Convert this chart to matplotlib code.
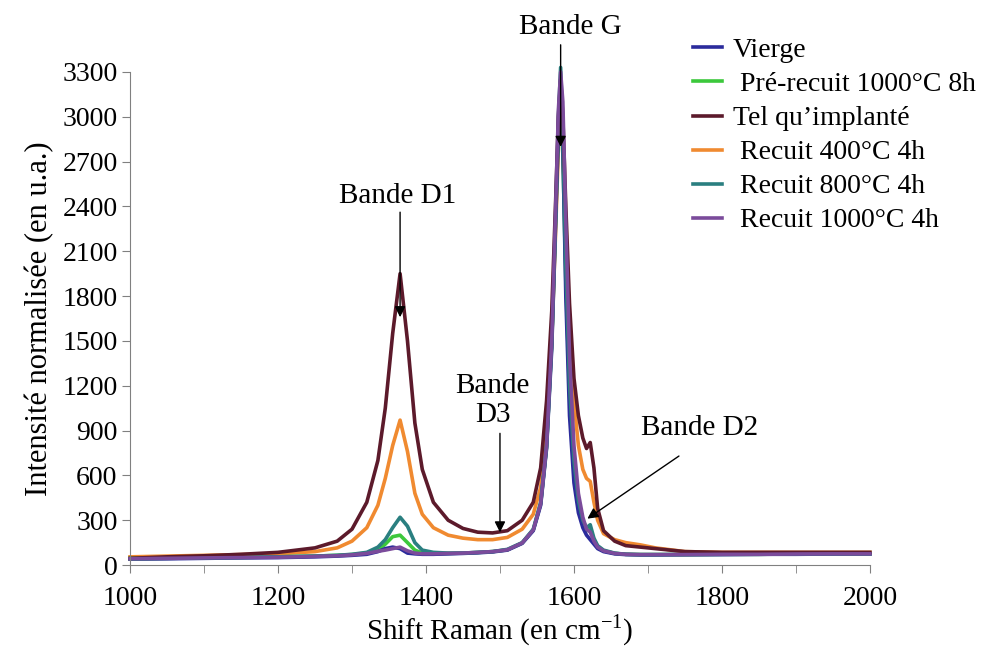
import matplotlib
matplotlib.use("Agg")
import matplotlib.pyplot as plt
from matplotlib.ticker import MultipleLocator

plt.rcParams["font.family"] = ["Liberation Serif", "DejaVu Serif"]

# Raman shift (cm-1), shared by all spectra
shift = [1000, 1050, 1100, 1150, 1200, 1250, 1280, 1300, 1320, 1335, 1345, 1355,
         1365, 1375, 1385, 1395, 1410, 1430, 1450, 1470, 1490, 1510, 1530, 1545,
         1555, 1563, 1570, 1575, 1579, 1582, 1585, 1589, 1594, 1600, 1606, 1612,
         1617, 1622, 1627, 1632, 1640, 1655, 1670, 1690, 1710, 1750, 1800, 1850,
         1900, 1950, 2000]

vierge = [40, 42, 45, 48, 50, 55, 60, 65, 72, 90, 110, 120,
          110, 80, 75, 72, 72, 75, 78, 82, 88, 100, 145, 230,
          400, 780, 1450, 2250, 2900, 3100, 2800, 1800, 1000, 550, 350, 250,
          200, 170, 140, 110, 90, 75, 70, 68, 68, 70, 70, 72,
          72, 74, 75]

pre_recuit = [45, 48, 50, 52, 55, 60, 65, 70, 80, 100, 140, 190,
              200, 150, 100, 80, 75, 78, 80, 84, 90, 102, 148, 235,
              410, 790, 1480, 2280, 2900, 3050, 2750, 1900, 1150, 650, 420, 300,
              230, 240, 170, 125, 95, 78, 72, 70, 70, 70, 72, 72,
              74, 75, 75]

implante = [45, 55, 62, 72, 85, 115, 160, 240, 420, 700, 1050, 1550,
            1950, 1500, 950, 640, 420, 300, 245, 220, 215, 230, 300, 420,
            650, 1100, 1700, 2400, 3000, 3250, 3000, 2400, 1750, 1250, 1000, 850,
            780, 820, 650, 380, 230, 160, 130, 120, 110, 90, 85, 85,
            85, 85, 85]

recuit_400 = [55, 60, 65, 70, 75, 90, 115, 160, 250, 400, 580, 800,
              970, 760, 480, 340, 250, 200, 180, 170, 170, 185, 240, 340,
              520, 900, 1500, 2200, 2800, 3050, 2800, 2200, 1600, 1100, 800, 640,
              580, 560, 420, 300, 210, 170, 150, 135, 115, 90, 85, 85,
              85, 85, 85]

recuit_800 = [40, 45, 48, 50, 55, 60, 65, 72, 85, 120, 170, 250,
              320, 260, 150, 100, 85, 80, 80, 85, 90, 105, 150, 240,
              420, 800, 1500, 2300, 3000, 3330, 2900, 2000, 1200, 700, 430, 300,
              250, 270, 180, 130, 100, 80, 72, 70, 70, 70, 72, 72,
              75, 75, 75]

recuit_1000 = [42, 45, 48, 50, 52, 58, 62, 68, 78, 92, 100, 110,
               120, 95, 80, 75, 75, 78, 80, 85, 90, 102, 148, 235,
               410, 800, 1500, 2350, 3050, 3300, 3100, 2300, 1400, 800, 480, 320,
               240, 220, 160, 120, 95, 78, 72, 70, 70, 70, 72, 72,
               74, 75, 75]

series = [
    (" Recuit 400°C 4h", recuit_400, "#f08a30"),
    (" Pré-recuit 1000°C 8h", pre_recuit, "#3cc83c"),
    ("Vierge", vierge, "#2b2b9c"),
    (" Recuit 800°C 4h", recuit_800, "#2a7f80"),
    ("Tel qu’implanté", implante, "#5c1a2b"),
    (" Recuit 1000°C 4h", recuit_1000, "#7b4b9b"),
]
legend_order = ["Vierge", " Pré-recuit 1000°C 8h", "Tel qu’implanté",
                " Recuit 400°C 4h", " Recuit 800°C 4h", " Recuit 1000°C 4h"]

FS = 21

fig = plt.figure(figsize=(10.08, 6.48), dpi=100)
ax = fig.add_axes([0.129, 0.128, 0.734, 0.761])

lines = {}
for label, vals, color in series:
    (ln,) = ax.plot(shift, vals, color=color, lw=2.6, label=label, clip_on=False)
    lines[label] = ln

ax.set_xlim(1000, 2000)
ax.set_ylim(0, 3300)
ax.xaxis.set_major_locator(MultipleLocator(200))
ax.xaxis.set_minor_locator(MultipleLocator(100))
ax.yaxis.set_major_locator(MultipleLocator(300))

for side in ["top", "right"]:
    ax.spines[side].set_visible(False)
for side in ["left", "bottom"]:
    ax.spines[side].set_color("#808080")
ax.tick_params(which="both", direction="out", length=6, color="#808080",
               labelsize=20, pad=3)
ax.tick_params(axis="x", which="both", pad=9)

ax.set_xlabel("Shift Raman (en cm$^{\\mathregular{-1}}$)", fontsize=FS, labelpad=1)
ax.set_ylabel("Intensité normalisée (en u.a.)", fontsize=FS + 1, labelpad=6)

arrow = dict(arrowstyle="-|>", color="black", lw=1.0, mutation_scale=16)
ax.annotate("", xy=(1582, 2780), xytext=(1582, 3500), arrowprops=arrow,
            annotation_clip=False)
ax.text(1595, 3600, "Bande G", ha="center", va="center", fontsize=FS, clip_on=False)

ax.annotate("", xy=(1365, 1640), xytext=(1365, 2380), arrowprops=arrow)
ax.text(1362, 2470, "Bande D1", ha="center", va="center", fontsize=FS)

ax.annotate("", xy=(1500, 200), xytext=(1500, 900), arrowprops=arrow)
ax.text(1490, 1100, "Bande\nD3", ha="center", va="center", fontsize=FS,
        linespacing=1.15)

ax.annotate("", xy=(1615, 300), xytext=(1745, 740), arrowprops=arrow)
ax.text(1770, 920, "Bande D2", ha="center", va="center", fontsize=FS)

fig.legend([lines[k] for k in legend_order], legend_order,
           loc="upper left", bbox_to_anchor=(0.676, 0.959), frameon=False,
           fontsize=20, handlelength=1.05, handletextpad=0.4,
           labelspacing=0.31, borderaxespad=0)

fig.savefig("out.png", dpi=100)
